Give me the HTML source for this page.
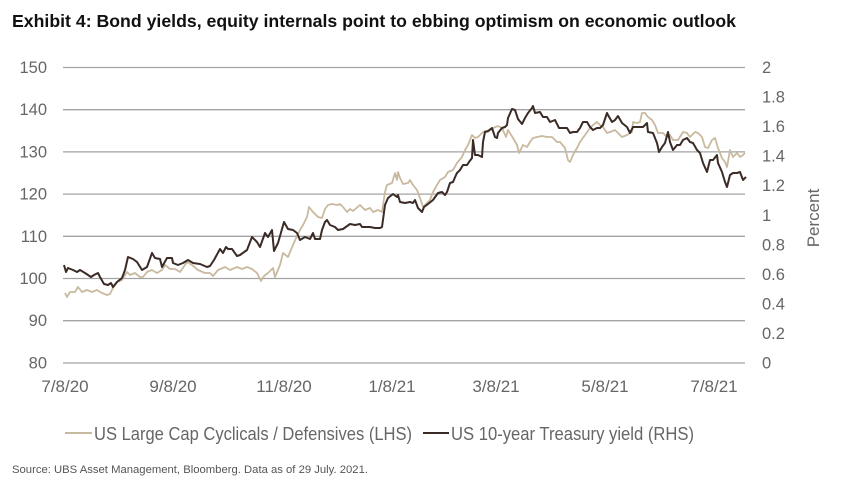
<!DOCTYPE html>
<html><head><meta charset="utf-8">
<style>
html,body{margin:0;padding:0;background:#fff;}
svg{display:block;}
text{font-family:"Liberation Sans",sans-serif;}
</style></head>
<body>
<svg width="851" height="488" viewBox="0 0 851 488" xmlns="http://www.w3.org/2000/svg">
<rect width="851" height="488" fill="#fff"/>
<text x="12" y="27" font-size="17.5" font-weight="bold" fill="#111" textLength="724" lengthAdjust="spacingAndGlyphs">Exhibit 4: Bond yields, equity internals point to ebbing optimism on economic outlook</text>

<g stroke="#a3a3a3" stroke-width="1.3">
<line x1="63" y1="67.5" x2="745" y2="67.5"/>
<line x1="63" y1="109.7" x2="745" y2="109.7"/>
<line x1="63" y1="151.9" x2="745" y2="151.9"/>
<line x1="63" y1="194.1" x2="745" y2="194.1"/>
<line x1="63" y1="236.3" x2="745" y2="236.3"/>
<line x1="63" y1="278.5" x2="745" y2="278.5"/>
<line x1="63" y1="320.7" x2="745" y2="320.7"/>
<line x1="63" y1="363" x2="745" y2="363"/>
</g>

<g font-size="16.5" fill="#666" text-anchor="end">
<text x="47" y="73">150</text>
<text x="47" y="115.2">140</text>
<text x="47" y="157.4">130</text>
<text x="47" y="199.6">120</text>
<text x="47" y="241.8">110</text>
<text x="47" y="284">100</text>
<text x="47" y="326.2">90</text>
<text x="47" y="368.5">80</text>
</g>
<g font-size="16.5" fill="#666">
<text x="762" y="73">2</text>
<text x="762" y="102.6">1.8</text>
<text x="762" y="132.1">1.6</text>
<text x="762" y="161.7">1.4</text>
<text x="762" y="191.2">1.2</text>
<text x="762" y="220.8">1</text>
<text x="762" y="250.3">0.8</text>
<text x="762" y="279.9">0.6</text>
<text x="762" y="309.4">0.4</text>
<text x="762" y="339">0.2</text>
<text x="762" y="368.5">0</text>
</g>
<text transform="translate(819,218) rotate(-90)" font-size="17" fill="#666" text-anchor="middle">Percent</text>

<g font-size="17" fill="#666" text-anchor="middle">
<text x="65" y="392">7/8/20</text>
<text x="173" y="392">9/8/20</text>
<text x="284" y="392">11/8/20</text>
<text x="392" y="392">1/8/21</text>
<text x="496" y="392">3/8/21</text>
<text x="605" y="392">5/8/21</text>
<text x="714" y="392">7/8/21</text>
</g>

<polyline fill="none" stroke="#c9b99f" stroke-width="1.8" stroke-linejoin="round" points="65,293 67,297 70,292 75,292 78,287 82,292 87,290 92,292 97,290 102,293 107,295 110,294 113,288 117,282 122,280 127,272 130,275 135,273 140,277 143,277 147,272 152,270 157,273 162,270 165,265 170,269 175,269 180,272 187,262 192,265 198,270 205,273 210,273 213,276 218,270 225,267 230,270 237,267 242,269 247,267 252,269 257,273 261,281 264,276 268,273 273,268 275,277 280,265 283,253 288,257 293,245 297,236 300,230 303,225 307,217 309,207 313,212 318,217 322,218 325,209 328,205 332,204 337,205 340,204 343,207 347,212 350,209 353,211 360,205 365,210 370,208 373,212 378,210 382,212 385,192 387,185 392,183 395,173 397,180 398,172 400,178 403,184 408,183 410,180 413,185 417,190 420,198 423,207 427,203 430,200 433,192 437,185 440,180 445,177 448,172 453,170 457,163 462,157 465,150 468,145 472,135 475,138 478,137 482,133 485,131 488,132 493,128 498,126 502,128 506,137 508,130 513,138 517,145 519,153 523,145 527,147 530,142 533,138 537,137 542,136 547,137 552,137 557,142 560,142 565,148 568,160 570,162 573,155 577,148 580,142 585,135 590,128 593,125 597,122 600,125 603,127 607,133 610,132 615,130 622,137 627,135 632,132 633,122 637,123 640,122 642,113 645,113 648,117 652,120 655,125 658,133 663,133 667,137 670,135 673,140 678,140 683,132 687,133 690,137 695,132 698,133 702,137 705,147 708,148 712,140 715,138 718,148 722,158 725,162 727,167 730,150 733,157 737,153 740,157 743,155 745,153"/>

<polyline fill="none" stroke="#3b2b26" stroke-width="2" stroke-linejoin="round" points="64,265 66,272 68,268 73,270 77,272 80,270 85,273 91,277 94,275 98,273 100,277 104,284 108,285 111,283 113,287 117,282 122,278 125,270 128,257 133,259 137,262 142,270 147,267 152,253 155,258 160,259 162,267 167,258 172,258 173,263 178,265 183,263 188,260 193,263 200,264 207,267 210,266 214,260 220,249 223,253 226,247 228,249 232,249 237,256 240,255 247,250 252,237 257,242 260,247 265,233 268,237 272,230 274,251 278,243 284,222 288,229 293,230 297,233 300,240 305,237 310,239 313,233 315,239 320,239 322,230 325,222 327,220 330,225 335,227 338,230 343,229 350,224 355,225 360,224 362,227 365,227 370,227 375,228 380,228 382,227 385,205 388,198 393,194 397,197 398,195 400,202 405,203 410,202 413,203 415,200 418,208 422,212 424,207 428,204 433,200 438,193 442,192 445,195 447,192 450,183 453,182 456,175 457,173 460,170 463,165 467,165 469,162 472,158 473,140 475,155 478,155 482,157 483,142 485,132 488,131 492,128 495,137 497,138 498,133 502,128 505,127 507,125 508,118 512,109 515,110 518,119 522,124 525,118 528,113 532,108 533,106 535,113 540,112 543,117 547,117 550,122 555,120 559,128 563,128 567,128 570,133 573,132 577,132 580,128 583,122 587,122 590,127 593,130 597,128 600,128 603,125 607,113 608,115 612,122 615,120 618,116 622,123 627,127 630,133 633,127 638,127 643,127 647,123 648,132 653,133 657,143 659,152 662,147 665,143 668,132 670,142 673,150 677,145 680,145 683,140 687,138 690,142 693,143 697,150 700,153 703,163 707,172 710,160 713,160 717,155 718,163 722,172 725,182 727,187 730,175 733,173 737,173 740,172 743,180 746,177"/>

<line x1="65" y1="433" x2="92" y2="433" stroke="#c9b99f" stroke-width="2"/>
<text x="94" y="440" font-size="18" fill="#666" textLength="318" lengthAdjust="spacingAndGlyphs">US Large Cap Cyclicals / Defensives (LHS)</text>
<line x1="423" y1="433" x2="449" y2="433" stroke="#3b2b26" stroke-width="2"/>
<text x="451" y="440" font-size="18" fill="#666" textLength="243" lengthAdjust="spacingAndGlyphs">US 10-year Treasury yield (RHS)</text>

<text x="12" y="473" font-size="11" fill="#555" textLength="356" lengthAdjust="spacingAndGlyphs">Source: UBS Asset Management, Bloomberg. Data as of 29 July. 2021.</text>
</svg>
</body></html>
